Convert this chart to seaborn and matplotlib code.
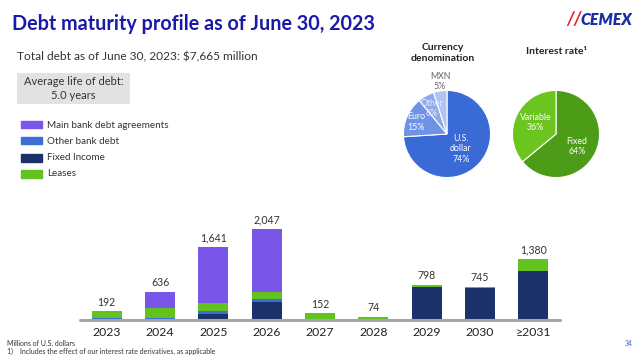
import matplotlib
matplotlib.use("Agg")
import matplotlib.pyplot as plt
import seaborn as sns
import numpy as np
import pandas as pd

# ---------------- data ----------------
years = ["2023", "2024", "2025", "2026", "2027", "2028", "2029", "2030", "≥2031"]
main_bank = [0, 367, 1260, 1425, 0, 0, 0, 0, 0]
other_bank = [30, 30, 60, 68, 25, 2, 0, 0, 0]
fixed_income = [12, 14, 134, 404, 7, 0, 748, 710, 1110]
leases = [150, 225, 187, 150, 120, 72, 50, 35, 270]
totals = [192, 636, 1641, 2047, 152, 74, 798, 745, 1380]
total_labels = ["192", "636", "1,641", "2,047", "152", "74", "798", "745", "1,380"]

series_names = ["Main bank debt agreements", "Other bank debt", "Fixed Income", "Leases"]

currency_labels = ["U.S.\ndollar\n74%", "Euro\n15%", "Other\n6%", "MXN\n5%"]
currency_values = [74, 15, 6, 5]
rate_labels = ["Fixed\n64%", "Variable\n36%"]
rate_values = [64, 36]

# ---------------- style ----------------
sns.set_style("white")
plt.rcParams["font.family"] = ["Lato", "DejaVu Sans"]

C_MAIN = "#7A55E9"
C_OTHER = "#3C6FD6"
C_FIXED = "#1B3169"
C_LEASE = "#62C21E"
TITLE_C = "#1A1AA8"

W, H = 640, 359
fig = plt.figure(figsize=(6.4, 3.59), dpi=100)
fig.patch.set_facecolor("white")

def px(x0, y0, x1, y1):
    return [x0 / W, 1 - y1 / H, (x1 - x0) / W, (y1 - y0) / H]

# ---------------- bar chart ----------------
ax = fig.add_axes(px(80, 215, 560, 320))
df = pd.DataFrame({
    "year": years,
    "fixed": fixed_income,
    "other": other_bank,
    "lease": leases,
    "main": main_bank,
})
df["c_fixed"] = df["fixed"]
df["c_other"] = df["c_fixed"] + df["other"]
df["c_lease"] = df["c_other"] + df["lease"]
df["c_main"] = df["c_lease"] + df["main"]

layers = [("c_main", C_MAIN), ("c_lease", C_LEASE), ("c_other", C_OTHER), ("c_fixed", C_FIXED)]
for i, (col, colr) in enumerate(layers):
    sns.barplot(data=df, x="year", y=col, order=years, color=colr, width=0.56,
                saturation=1, ax=ax, zorder=2 + i, edgecolor="none", linewidth=0)

ax.set_xlim(-0.5, len(years) - 0.5)
ax.set_ylim(0, 2047 * 105 / 91)
ax.axhline(0, color="#A6A6A6", lw=2.2, zorder=10, clip_on=False)
for s in ax.spines.values():
    s.set_visible(False)
ax.set_yticks([])
ax.set_xlabel("")
ax.set_ylabel("")
ax.tick_params(axis="x", length=0, pad=5, labelsize=8.8, labelcolor="#222222")

for i, t in enumerate(totals):
    ax.annotate(total_labels[i], (i, t), xytext=(0, 2.5), textcoords="offset points",
                ha="center", va="bottom", fontsize=7.6, color="#333333")

# ---------------- titles / text ----------------
fig.text(12 / W, 1 - 24 / H, "Debt maturity profile as of June 30, 2023", fontsize=14.2,
         fontweight="bold", color=TITLE_C, ha="left", va="center")
fig.text(17 / W, 1 - 57 / H, "Total debt as of June 30, 2023: $7,665 million", fontsize=8.6,
         color="#333333", ha="left", va="center")

# gray box
box_ax = fig.add_axes(px(17, 73, 130, 104))
box_ax.set_facecolor("#E2E2E2")
box_ax.set_xticks([]); box_ax.set_yticks([])
for s in box_ax.spines.values():
    s.set_visible(False)
box_ax.text(0.5, 0.5, "Average life of debt:\n5.0 years", ha="center", va="center",
            fontsize=8, color="#333333", transform=box_ax.transAxes, linespacing=1.35)

# legend
leg_colors = [C_MAIN, C_OTHER, C_FIXED, C_LEASE]
leg_y = [125, 141, 158, 174]
for name, colr, y in zip(series_names, leg_colors, leg_y):
    fig.patches.append(plt.Rectangle((21 / W, 1 - (y + 3.5) / H), 21 / W, 7.5 / H,
                                     transform=fig.transFigure, color=colr, figure=fig))
    fig.text(47 / W, 1 - y / H, name, fontsize=7.1, color="#333333", ha="left", va="center")

# logo
fig.text(566 / W, 1 - 20 / H, "//", fontsize=13, fontweight="bold", style="italic",
         color="#E8202A", ha="left", va="center")
fig.text(580 / W, 1 - 20 / H, "CEMEX", fontsize=11.5, fontweight="heavy", style="italic",
         color="#1A2FA6", ha="left", va="center")

# footnotes
fig.text(7 / W, 1 - 343 / H, "Millions of U.S. dollars", fontsize=5, color="#333333",
         ha="left", va="center")
fig.text(7 / W, 1 - 351 / H, "1)    Includes the effect of our interest rate derivatives, as applicable",
         fontsize=5, color="#333333", ha="left", va="center")
fig.text(625 / W, 1 - 343 / H, "34", fontsize=5, color="#3A5FCD", ha="left", va="center")

# ---------------- pies ----------------
pie1 = fig.add_axes(px(403, 90, 491, 178))
pie1.pie(currency_values, colors=["#3A6AD5", "#6E93E4", "#8DAAEA", "#AFC4F1"],
         startangle=90, counterclock=False,
         wedgeprops=dict(edgecolor="white", linewidth=0.8))
pie1.set_xlim(-1.01, 1.01); pie1.set_ylim(-1.01, 1.01)
pie1.set_aspect("equal")
pie2 = fig.add_axes(px(512, 90, 600, 178))
pie2.pie(rate_values, colors=["#4C9C17", "#6CC51E"], startangle=90, counterclock=False,
         wedgeprops=dict(edgecolor="white", linewidth=0.8))
pie2.set_xlim(-1.01, 1.01); pie2.set_ylim(-1.01, 1.01)
pie2.set_aspect("equal")

fig.text(443 / W, 1 - 53 / H, "Currency\ndenomination", fontsize=7.5, fontweight="bold",
         color="#222222", ha="center", va="center", linespacing=1.2)
fig.text(557 / W, 1 - 52 / H, "Interest rate¹", fontsize=7.5, fontweight="bold",
         color="#222222", ha="center", va="center")

pie_label_pos = {
    "U.S.\ndollar\n74%": (461, 149, "white"),
    "Euro\n15%": (416, 122, "white"),
    "Other\n6%": (432, 108.5, "#E8EEFB"),
    "MXN\n5%": (440, 81.5, "#666666"),
    "Fixed\n64%": (577, 146.5, "white"),
    "Variable\n36%": (535.5, 122.5, "white"),
}
for lab, (x, y, c) in pie_label_pos.items():
    fig.text(x / W, 1 - y / H, lab, fontsize=6.3, color=c, ha="center", va="center",
             linespacing=1.25)

fig.savefig("out.png", dpi=100, facecolor="white")
